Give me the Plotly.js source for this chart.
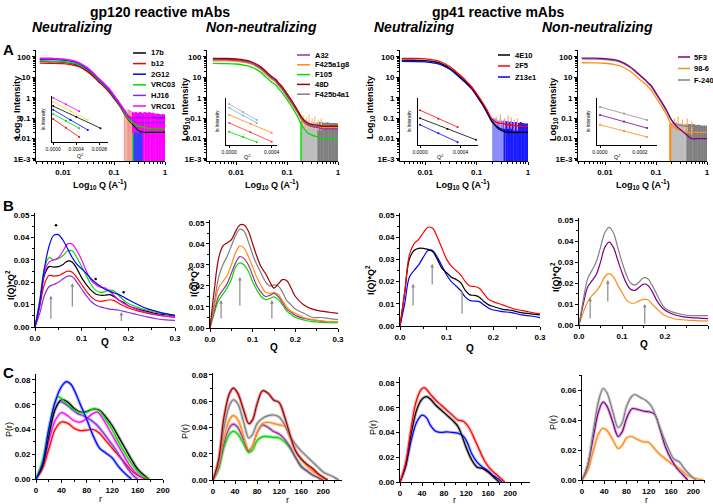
<!DOCTYPE html>
<html><head><meta charset="utf-8">
<script src="https://cdn.plot.ly/plotly-3.0.1.min.js"></script>
<style>html,body{margin:0;padding:0;background:#fff}#chart{width:713px;height:504px}</style>
</head><body><div id="chart"></div>
<script>
// ================= DATA =================
// ---- Row A : log-log scattering curves ----
const qA = [0.0035,0.006,0.01,0.015,0.02,0.03,0.04,0.05,0.06,0.07,0.08,0.1,0.13,0.16,0.2,0.25,0.3,0.4,0.5,0.7,1.0];
const a1Names = ['17b','b12','2G12','VRC03','HJ16','VRC01'];
const a1_17b  = [60,59,56,48,39,22,12,6.7,4.5,3.1,2.2,1.0,0.42,0.18,0.08,0.04,0.025,0.02,0.02,0.02,0.02];
const a1_b12  = [50,49,47,41,34,19,10.5,5.9,4,2.7,1.9,0.9,0.38,0.16,0.07,0.05,0.04,0.035,0.03,0.03,0.03];
const a1_2G12 = [75,74,70,60,48,26,14,7.8,5.2,3.5,2.5,1.15,0.48,0.22,0.11,0.1,0.1,0.1,0.1,0.1,0.1];
const a1_VRC03= [62,61,58,50,41,23,12.5,7,4.7,3.2,2.3,1.05,0.42,0.18,0.08,0.05,0.04,0.035,0.03,0.03,0.03];
const a1_HJ16 = [80,78,74,63,50,27,14.5,8,5.3,3.6,2.6,1.2,0.5,0.22,0.1,0.07,0.06,0.06,0.06,0.06,0.06];
const a1_VRC01= [88,86,80,68,55,30,16,9,6,4,2.9,1.35,0.55,0.25,0.12,0.1,0.1,0.1,0.1,0.09,0.09];

const a2Names = ['A32','F425a1g8','F105','48D','F425b4a1'];
const a2_A32  = [78,77,73,63,52,30,16,9.5,7,4.3,3,1.3,0.5,0.22,0.09,0.05,0.04,0.035,0.03,0.03,0.03];
const a2_a1g8 = [65,64,61,53,44,25,13,8,5.8,3.6,2.5,1.1,0.42,0.18,0.07,0.045,0.04,0.035,0.035,0.035,0.035];
const a2_F105 = [48,47,45,39,32,18.5,9.5,5.8,4.2,2.6,1.8,0.8,0.3,0.12,0.04,0.02,0.015,0.012,0.01,0.01,0.01];
const a2_48D  = [85,84,80,70,58,34,18,11,8,5,3.5,1.6,0.6,0.25,0.1,0.06,0.05,0.045,0.04,0.04,0.04];
const a2_b4a1 = [72,71,68,59,49,28,15,9,6.5,4,2.8,1.2,0.47,0.2,0.08,0.05,0.045,0.04,0.04,0.04,0.04];

const a3Names = ['4E10','2F5','Z13e1'];
const a3_4E10 = [70,69,66,58,48,28,16,9.5,6.3,4.2,3,1.4,0.5,0.2,0.07,0.035,0.025,0.02,0.02,0.02,0.02];
const a3_2F5  = [85,84,80,70,58,34,19,11.5,7.5,5,3.5,1.6,0.6,0.25,0.09,0.06,0.055,0.05,0.045,0.04,0.04];
const a3_Z13  = [60,59,57,50,42,25,14,8.5,5.7,3.8,2.7,1.25,0.46,0.18,0.065,0.04,0.03,0.025,0.02,0.02,0.02];

const a4Names = ['5F3','98-6','F-240'];
const a4_5F3  = [88,87,83,73,60,35,20,12,8,5.5,4,1.7,0.6,0.25,0.085,0.04,0.028,0.015,0.01,0.01,0.01];
const a4_986  = [52,51,49,43,36,21,12,7.2,5,3.4,2.4,1.0,0.37,0.15,0.05,0.03,0.025,0.02,0.02,0.02,0.02];
const a4_F240 = [80,79,75,66,55,32,18,11,7.5,5,3.6,1.5,0.55,0.22,0.08,0.05,0.045,0.04,0.04,0.035,0.035];

// high-Q noisy points with error bars (value, upper error, lower error)
const e1_b12_q=[0.16,0.17,0.18,0.19,0.2,0.21,0.22], e1_b12_v=[0.16,0.14,0.13,0.12,0.11,0.1,0.1], e1_b12_up=[0.08,0.14,0.1,0.16,0.12,0.1,0.12];
const e1_VRC03_q=[0.19,0.2,0.21,0.22,0.23], e1_VRC03_v=[0.1,0.1,0.095,0.09,0.09], e1_VRC03_up=[0.03,0.04,0.03,0.04,0.03];
const e1_2G12_q=[0.23,0.24,0.25,0.26,0.27,0.28,0.29,0.3,0.31,0.32,0.33,0.34,0.35,0.36,0.37];
const e1_2G12_v=[0.1,0.11,0.1,0.1,0.105,0.1,0.1,0.095,0.1,0.1,0.105,0.1,0.1,0.095,0.1];
const e1_2G12_up=[0.05,0.06,0.04,0.05,0.06,0.05,0.04,0.05,0.06,0.05,0.04,0.05,0.05,0.04,0.05];
const e1_VRC01_q=[0.2,0.21,0.22,0.23,0.24,0.25,0.27,0.29,0.31,0.33,0.35,0.38,0.41,0.44,0.47,0.5,0.54,0.58,0.62,0.67,0.72,0.77,0.83,0.89,0.95,1.0];
const e1_VRC01_v=[0.12,0.11,0.11,0.1,0.1,0.1,0.1,0.1,0.1,0.1,0.1,0.1,0.1,0.1,0.1,0.095,0.1,0.095,0.09,0.095,0.09,0.09,0.09,0.09,0.09,0.09];
const e1_VRC01_up=[0.12,0.1,0.09,0.1,0.08,0.09,0.1,0.08,0.09,0.1,0.08,0.09,0.1,0.08,0.09,0.1,0.08,0.09,0.08,0.07,0.08,0.07,0.06,0.07,0.06,0.06];
const e1_VRC01_dn=[0.1,0.09,0.09,0.08,0.08,0.08,0.08,0.08,0.08,0.08,0.08,0.1,0.1,0.1,0.1,0.095,0.1,0.095,0.09,0.095,0.09,0.09,0.09,0.09,0.09,0.09];

const e2_F105_q=[0.19,0.195,0.2,0.205], e2_F105_v=[0.04,0.035,0.03,0.03], e2_F105_up=[0.03,0.04,0.03,0.03];
const e2_b4a1L_q=[0.205,0.21,0.22,0.23,0.24,0.25,0.27,0.29,0.31,0.33,0.35,0.38];
const e2_b4a1L_v=[0.05,0.05,0.045,0.045,0.045,0.04,0.045,0.04,0.04,0.045,0.04,0.04];
const e2_b4a1L_up=[0.03,0.025,0.03,0.025,0.02,0.03,0.025,0.02,0.025,0.02,0.02,0.025];
const e2_b4a1D_q=[0.41,0.44,0.47,0.5,0.54,0.58,0.62,0.67,0.72,0.77,0.83,0.89,0.95,1.0];
const e2_b4a1D_v=[0.04,0.042,0.04,0.038,0.04,0.04,0.038,0.04,0.038,0.038,0.04,0.038,0.036,0.036];
const e2_b4a1D_up=[0.02,0.025,0.02,0.025,0.02,0.02,0.025,0.02,0.02,0.02,0.018,0.02,0.02,0.018];
const e2_a1g8_q=[0.21,0.24,0.27,0.31,0.35,0.41,0.47], e2_a1g8_v=[0.06,0.05,0.05,0.05,0.05,0.045,0.045];
const e2_a1g8_up=[0.08,0.06,0.1,0.05,0.07,0.04,0.05], e2_a1g8_dn=[0.02,0.02,0.02,0.02,0.02,0.02,0.02];

const e3_Z13L_q=[0.21,0.22,0.23,0.24,0.25,0.27,0.29,0.31,0.33];
const e3_Z13L_v=[0.06,0.055,0.05,0.05,0.05,0.045,0.045,0.045,0.045];
const e3_Z13L_up=[0.04,0.04,0.03,0.04,0.03,0.03,0.04,0.03,0.03];
const e3_Z13D_q=[0.35,0.38,0.41,0.44,0.47,0.5,0.54,0.58,0.62,0.67,0.72,0.77,0.83,0.89,0.95,1.0];
const e3_Z13D_v=[0.045,0.045,0.04,0.045,0.04,0.04,0.042,0.04,0.04,0.038,0.04,0.038,0.036,0.036,0.035,0.035];
const e3_Z13D_up=[0.03,0.025,0.03,0.02,0.03,0.025,0.02,0.025,0.02,0.02,0.025,0.02,0.02,0.018,0.02,0.018];
const e3_2F5_q=[0.24,0.29,0.35,0.41,0.47,0.54,0.62], e3_2F5_v=[0.06,0.055,0.05,0.05,0.05,0.045,0.045];
const e3_2F5_up=[0.06,0.1,0.05,0.08,0.06,0.04,0.05], e3_2F5_dn=[0.02,0.02,0.02,0.02,0.02,0.02,0.02];

const e4_986_q=[0.19,0.195,0.2,0.205], e4_986_v=[0.035,0.03,0.03,0.025], e4_986_up=[0.02,0.025,0.02,0.02];
const e4_F240L_q=[0.21,0.22,0.23,0.24,0.25,0.27,0.29,0.31,0.33,0.35,0.38];
const e4_F240L_v=[0.04,0.04,0.038,0.038,0.036,0.036,0.035,0.035,0.034,0.034,0.033];
const e4_F240L_up=[0.02,0.025,0.02,0.02,0.025,0.02,0.02,0.018,0.02,0.018,0.02];
const e4_F240D_q=[0.41,0.44,0.47,0.5,0.54,0.58,0.62,0.67,0.72,0.77,0.83,0.89,0.95,1.0];
const e4_F240D_v=[0.033,0.033,0.032,0.032,0.032,0.03,0.03,0.03,0.03,0.028,0.028,0.028,0.028,0.028];
const e4_F240D_up=[0.02,0.018,0.02,0.018,0.02,0.018,0.016,0.018,0.016,0.016,0.015,0.016,0.015,0.015];
const e4_986s_q=[0.23,0.27,0.33,0.41,0.5], e4_986s_v=[0.04,0.04,0.035,0.035,0.03];
const e4_986s_up=[0.06,0.08,0.05,0.06,0.04], e4_986s_dn=[0.015,0.015,0.015,0.015,0.015];

// Guinier insets (ln I vs Q^2, arbitrary units)
const in1_x = [[0,0.00022,0.00045],[0,0.0003,0.0006],[0,0.0004,0.00082],[0,0.0003,0.0006],[0,0.00022,0.00045],[0,0.00022,0.00045]];
const in1_y = [[9.6,8.2,6.7],[8.7,6.7,4.8],[7.8,5.5,3.0],[7.0,4.8,2.6],[6.1,4.6,3.0],[5.0,3.1,1.1]];
const in2_x = [[0,0.00013,0.00026],[0,0.00013,0.00026],[0,0.0002,0.0004],[0,0.0002,0.0004],[0,0.00013,0.00026]];
const in2_y = [[8.7,7.0,5.3],[7.9,6.3,4.7],[6.4,4.5,2.6],[4.7,2.7,0.7],[2.8,1.7,0.6]];
const in3_x = [[0,0.00018,0.00037],[0,0.00027,0.00055],[0,0.00018,0.00037]];
const in3_y = [[7.4,5.6,3.8],[5.7,3.4,1.1],[4.3,2.5,0.6]];
const in4_x = [[0,0.00012,0.000235],[0,0.00012,0.000235],[0,0.00012,0.000235]];
const in4_y = [[8.1,6.7,5.3],[6.4,5.0,3.6],[4.3,3.0,1.7]];

// ---- Row B : Kratky plots ----
const qB = [0,0.01,0.02,0.03,0.04,0.05,0.06,0.07,0.08,0.09,0.10,0.11,0.12,0.13,0.14,0.15,0.16,0.17,0.18,0.19,0.20,0.22,0.24,0.26,0.28,0.30];
const b1_2G12 = [0,0.011,0.026,0.036,0.041,0.0413,0.0388,0.035,0.031,0.028,0.026,0.024,0.0216,0.0198,0.0183,0.0168,0.016,0.0152,0.0145,0.0134,0.0122,0.0101,0.0082,0.007,0.006,0.0052];
const b1_VRC01= [0,0.010,0.024,0.029,0.030,0.031,0.034,0.0372,0.037,0.034,0.030,0.025,0.021,0.019,0.0178,0.0175,0.016,0.014,0.012,0.0105,0.0095,0.0078,0.0065,0.0055,0.0048,0.0042];
const b1_VRC03= [0,0.012,0.026,0.031,0.030,0.0305,0.032,0.034,0.034,0.031,0.027,0.023,0.019,0.0165,0.0155,0.0158,0.0165,0.016,0.014,0.012,0.0105,0.0088,0.0075,0.0065,0.0058,0.0052];
const b1_17b  = [0,0.010,0.023,0.027,0.0268,0.027,0.028,0.0295,0.029,0.026,0.022,0.019,0.0165,0.0148,0.0142,0.0142,0.0145,0.0135,0.012,0.011,0.0095,0.008,0.007,0.006,0.0055,0.005];
const b1_b12  = [0,0.009,0.019,0.023,0.0228,0.023,0.024,0.025,0.0245,0.022,0.019,0.016,0.0135,0.012,0.0115,0.0118,0.0122,0.0118,0.0105,0.0095,0.0085,0.0072,0.0062,0.0054,0.0048,0.0044];
const b1_HJ16 = [0,0.006,0.014,0.018,0.019,0.020,0.0215,0.0228,0.0225,0.020,0.017,0.014,0.0115,0.0098,0.009,0.0085,0.008,0.0078,0.0075,0.007,0.0065,0.0055,0.0045,0.0037,0.0032,0.003];

const b2_48D  = [0,0.018,0.033,0.039,0.0405,0.042,0.046,0.049,0.049,0.046,0.040,0.034,0.029,0.026,0.022,0.019,0.021,0.023,0.0225,0.019,0.015,0.011,0.009,0.008,0.0075,0.007];
const b2_b4a1 = [0,0.012,0.024,0.030,0.034,0.039,0.044,0.047,0.046,0.041,0.035,0.030,0.026,0.022,0.020,0.0205,0.020,0.017,0.013,0.011,0.009,0.007,0.005,0.005,0.0045,0.004];
const b2_a1g8 = [0,0.010,0.019,0.022,0.025,0.030,0.036,0.039,0.038,0.034,0.029,0.024,0.020,0.017,0.0165,0.017,0.016,0.013,0.010,0.008,0.007,0.005,0.004,0.0035,0.003,0.003];
const b2_A32  = [0,0.008,0.015,0.018,0.021,0.026,0.031,0.034,0.033,0.030,0.025,0.020,0.017,0.015,0.0155,0.0165,0.015,0.012,0.009,0.0075,0.006,0.0045,0.0038,0.0033,0.003,0.003];
const b2_F105 = [0,0.007,0.013,0.016,0.019,0.023,0.029,0.031,0.030,0.027,0.022,0.018,0.015,0.0135,0.014,0.0148,0.0135,0.011,0.008,0.0065,0.005,0.0038,0.003,0.0027,0.0025,0.0025];

const b3_2F5  = [0,0.015,0.032,0.037,0.039,0.042,0.0445,0.044,0.040,0.035,0.030,0.027,0.025,0.023,0.020,0.018,0.0178,0.017,0.0145,0.012,0.011,0.0095,0.008,0.007,0.0062,0.0055];
const b3_4E10 = [0,0.015,0.030,0.034,0.035,0.035,0.0345,0.0335,0.030,0.026,0.024,0.022,0.021,0.0195,0.016,0.014,0.0138,0.013,0.011,0.0095,0.0088,0.0075,0.007,0.006,0.0055,0.005];
const b3_Z13  = [0,0.010,0.022,0.025,0.0275,0.031,0.034,0.034,0.031,0.027,0.023,0.020,0.018,0.016,0.013,0.0115,0.0112,0.011,0.0095,0.008,0.0072,0.0065,0.006,0.005,0.0045,0.0038];

const b4_F240 = [0,0.012,0.022,0.026,0.030,0.037,0.044,0.0465,0.044,0.037,0.030,0.024,0.020,0.019,0.0205,0.0225,0.022,0.019,0.015,0.011,0.008,0.006,0.005,0.0045,0.0045,0.0045];
const b4_5F3  = [0,0.010,0.018,0.021,0.024,0.030,0.037,0.0395,0.037,0.031,0.025,0.020,0.017,0.0165,0.018,0.0195,0.019,0.016,0.012,0.009,0.007,0.005,0.004,0.0035,0.0033,0.003];
const b4_986  = [0,0.006,0.011,0.014,0.016,0.019,0.023,0.0245,0.023,0.019,0.0155,0.012,0.0105,0.0105,0.0115,0.0122,0.012,0.010,0.008,0.006,0.0045,0.003,0.0025,0.0022,0.002,0.002];

// arrows (Q, tail value, head value) and peak dots
const b1_arrows = [[0.034,0.003,0.014],[0.08,0.0085,0.0196],[0.185,0.002,0.0067]];
const b1_dotQ = [0.045,0.13,0.19], b1_dotV = [0.0455,0.0215,0.0155];
const b2_arrows = [[0.026,0.0038,0.0133],[0.07,0.010,0.0243],[0.145,0.0038,0.0133]];
const b3_arrows = [[0.028,0.0086,0.019],[0.069,0.018,0.028],[0.133,0.005,0.016]];
const b4_arrows = [[0.026,0.0024,0.013],[0.067,0.0105,0.0214],[0.153,0.0,0.010]];

// ---- Row C : P(r) distributions ----
const c1_r_17b=[0,10,20,30,40,50,60,70,80,90,100,110,120,130,140,150,160,170,178];
const c1_17b =[0,0.010,0.034,0.056,0.064,0.062,0.057,0.054,0.0545,0.0565,0.0555,0.050,0.043,0.034,0.025,0.016,0.008,0.003,0];
const c1_r_b12=[0,10,20,30,40,50,60,70,80,90,100,110,120,130,140,150,160,170,175];
const c1_b12 =[0,0.008,0.024,0.040,0.046,0.045,0.041,0.039,0.0395,0.040,0.037,0.031,0.025,0.019,0.013,0.007,0.003,0.0005,0];
const c1_r_2G12=[0,10,20,30,40,48,55,60,70,80,90,100,110,120,130,140,150];
const c1_2G12 =[0,0.012,0.040,0.062,0.0745,0.0787,0.0765,0.072,0.060,0.048,0.035,0.025,0.021,0.017,0.010,0.0045,0];
const c1_r_VRC03=[0,10,20,30,35,40,50,60,70,80,90,100,110,120,130,140,150,160,170,178];
const c1_VRC03 =[0,0.014,0.040,0.062,0.0665,0.065,0.060,0.056,0.0535,0.054,0.0565,0.055,0.048,0.040,0.030,0.021,0.013,0.006,0.002,0];
const c1_r_HJ16=[0,10,20,30,38,45,55,65,75,85,95,105,115,125,135,145,155,160];
const c1_HJ16 =[0,0.012,0.038,0.057,0.0625,0.061,0.057,0.053,0.051,0.048,0.044,0.038,0.031,0.024,0.016,0.008,0.002,0];
const c1_r_VRC01=[0,10,20,30,40,50,60,70,80,90,97,105,115,125,135,145,155,165,170];
const c1_VRC01 =[0,0.010,0.030,0.047,0.0535,0.051,0.047,0.046,0.049,0.053,0.054,0.049,0.040,0.031,0.022,0.013,0.006,0.002,0];

const c2_r_48D=[0,10,20,30,37,45,55,65,72,80,90,100,110,120,130,140,150,160,170,180,190,200,208];
const c2_48D =[0,0.015,0.048,0.066,0.070,0.066,0.054,0.043,0.046,0.058,0.068,0.066,0.061,0.059,0.048,0.034,0.022,0.016,0.012,0.009,0.005,0.002,0];
const c2_r_b4a1=[0,10,20,30,37,45,55,65,72,80,90,100,110,120,130,140,150,160,170,180,190,200,210,220,228];
const c2_b4a1 =[0,0.012,0.040,0.057,0.061,0.058,0.045,0.032,0.035,0.043,0.047,0.049,0.0495,0.048,0.042,0.033,0.027,0.022,0.018,0.014,0.010,0.006,0.004,0.002,0];
const c2_r_a1g8=[0,10,20,30,37,45,55,65,72,80,90,100,110,120,130,140,150,160,170,180,190,200,205];
const c2_a1g8 =[0,0.010,0.032,0.046,0.049,0.046,0.034,0.023,0.026,0.036,0.043,0.044,0.043,0.042,0.041,0.032,0.022,0.016,0.011,0.007,0.004,0.001,0];
const c2_r_A32=[0,10,20,30,37,45,55,65,72,80,90,100,110,120,130,140,150,160,170,180,190,200];
const c2_A32 =[0,0.009,0.028,0.040,0.0425,0.040,0.031,0.022,0.026,0.036,0.042,0.040,0.037,0.035,0.031,0.025,0.017,0.010,0.007,0.004,0.002,0];
const c2_r_F105=[0,10,20,30,37,45,55,65,72,80,90,100,110,120,130,140,150,160,170,180,190,195];
const c2_F105 =[0,0.008,0.025,0.035,0.037,0.035,0.028,0.021,0.023,0.030,0.033,0.033,0.0325,0.032,0.029,0.024,0.017,0.011,0.007,0.004,0.002,0];

const c3_r_2F5=[0,10,20,30,40,45,55,65,75,85,95,105,115,125,135,145,155,165,175,185,190];
const c3_2F5 =[0,0.015,0.043,0.066,0.0755,0.076,0.071,0.066,0.062,0.058,0.054,0.050,0.049,0.044,0.035,0.025,0.016,0.010,0.006,0.002,0];
const c3_r_4E10=[0,10,20,30,40,48,55,65,75,85,95,105,112,120,130,140,150,160,170,180];
const c3_4E10 =[0,0.013,0.038,0.058,0.067,0.069,0.067,0.062,0.058,0.054,0.050,0.045,0.038,0.028,0.018,0.012,0.011,0.008,0.004,0];
const c3_r_Z13=[0,10,20,30,40,48,55,65,75,85,95,105,115,122,130,140,150,160,170,180,185];
const c3_Z13 =[0,0.012,0.033,0.048,0.054,0.052,0.046,0.041,0.040,0.0405,0.040,0.0395,0.037,0.032,0.023,0.016,0.012,0.009,0.005,0.002,0];

const c4_r_F240=[0,10,20,30,38,45,55,65,72,80,90,95,105,115,125,135,145,155,165,175,185,195,205];
const c4_F240 =[0,0.010,0.032,0.053,0.061,0.058,0.046,0.035,0.038,0.049,0.056,0.057,0.055,0.053,0.049,0.040,0.030,0.021,0.014,0.012,0.007,0.003,0];
const c4_r_5F3=[0,10,20,30,38,45,55,65,72,80,90,100,110,120,130,140,150,160,170,180,190];
const c4_5F3 =[0,0.009,0.028,0.046,0.052,0.049,0.039,0.029,0.032,0.041,0.0475,0.047,0.046,0.0455,0.044,0.034,0.022,0.014,0.008,0.004,0];
const c4_r_986=[0,10,20,30,38,45,55,65,72,80,88,100,110,120,130,140,150,160,170,180,190,200,210,218];
const c4_986 =[0,0.006,0.019,0.031,0.0345,0.033,0.027,0.021,0.023,0.028,0.029,0.027,0.0255,0.025,0.021,0.017,0.014,0.011,0.009,0.006,0.003,0.0015,0.0005,0];

// tick labels
const logYVals=[0.001,0.01,0.1,1,10,100], logYText=['1E-3','0.01','0.1','1','10','100'];
const logXVals=[0.01,0.1,1], logXText=['0.01','0.1','1'];

// ================= STYLE / LAYOUT HELPERS =================
const W=713,H=504;
const FONT='Liberation Sans, Arial, sans-serif';
const C={black:'#000000',red:'#ff0000',blue:'#0000ff',green:'#00dd00',purple:'#8a2be2',magenta:'#ff00ff',
  orange:'#ff8c1a',dred:'#a00000',grey:'#808080',plum:'#993399',dpurple:'#800080',yellow:'#e6e600',cyan:'#55c8e0',lavender:'#b39cc8'};
const TF={family:FONT,size:8,color:'#000',weight:'bold'};
function xAx(x0,x1,anchor,range,extra){return Object.assign({domain:[x0/W,x1/W],anchor:anchor,range:range,showline:true,linecolor:'#000',linewidth:1,
  ticks:'outside',ticklen:3,tickwidth:1,tickcolor:'#000',showgrid:false,zeroline:false,tickfont:TF,automargin:false,fixedrange:true},extra||{});}
function yAx(yt,yb,anchor,range,extra){return Object.assign({domain:[1-yb/H,1-yt/H],anchor:anchor,range:range,showline:true,linecolor:'#000',linewidth:1,
  ticks:'outside',ticklen:3,tickwidth:1,tickcolor:'#000',showgrid:false,zeroline:false,tickfont:TF,automargin:false,fixedrange:true},extra||{});}
const logX={type:'log',tickmode:'array',tickvals:logXVals,ticktext:logXText,minor:{ticks:'outside',ticklen:2,dtick:'D1',tickcolor:'#000'}};
const logY={type:'log',tickmode:'array',tickvals:logYVals,ticktext:logYText,minor:{ticks:'outside',ticklen:2,dtick:'D1',tickcolor:'#000'}};
const bX={dtick:0.1,tickformat:'.1f',minor:{dtick:0.05,ticks:'outside',ticklen:2,tickcolor:'#000'}};
const bY={dtick:0.01,tickformat:'.2f',minor:{dtick:0.005,ticks:'outside',ticklen:2,tickcolor:'#000'}};
const cX={dtick:40,minor:{dtick:20,ticks:'outside',ticklen:2,tickcolor:'#000'}};
const cY={dtick:0.02,tickformat:'.2f',minor:{dtick:0.01,ticks:'outside',ticklen:2,tickcolor:'#000'}};
const inTF={family:FONT,size:5,color:'#000'};
function inX(x0,x1,anchor,range,vals,texts){return xAx(x0,x1,anchor,range,{tickmode:'array',tickvals:vals,ticktext:texts,tickfont:inTF,ticklen:2});}
function inY(yt,yb,anchor){return yAx(yt,yb,anchor,[0,10],{showticklabels:false,ticks:''});}

const layout={width:W,height:H,margin:{l:0,r:0,t:0,b:0},showlegend:false,paper_bgcolor:'#fff',plot_bgcolor:'rgba(0,0,0,0)',
 xaxis:xAx(36,165,'y',[-2.53,0],logX), yaxis:yAx(50,161,'x',[-3.1,2.34],logY),
 xaxis2:xAx(207,338,'y2',[-2.57,0],logX), yaxis2:yAx(50,161,'x2',[-3.1,2.34],logY),
 xaxis3:xAx(400,528,'y3',[-2.49,0],logX), yaxis3:yAx(50,161,'x3',[-3.1,2.34],logY),
 xaxis4:xAx(578,707,'y4',[-2.53,0],logX), yaxis4:yAx(50,161,'x4',[-3.1,2.34],logY),
 xaxis5:xAx(35,175,'y5',[0,0.3],bX), yaxis5:yAx(213,327,'x5',[0,0.051],bY),
 xaxis6:xAx(210,338,'y6',[0,0.3],bX), yaxis6:yAx(220,328,'x6',[0,0.0514],bY),
 xaxis7:xAx(400,540,'y7',[0,0.3],bX), yaxis7:yAx(213,326,'x7',[0,0.0509],bY),
 xaxis8:xAx(579,708,'y8',[0,0.3],bX), yaxis8:yAx(218,325,'x8',[0,0.051],bY),
 xaxis9:xAx(36,163,'y9',[0,200],cX), yaxis9:yAx(374,479,'x9',[0,0.0848],cY),
 xaxis10:xAx(213,342,'y10',[0,234],cX), yaxis10:yAx(373,480,'x10',[0,0.0815],cY),
 xaxis11:xAx(400,530,'y11',[0,236],cX), yaxis11:yAx(377,482,'x11',[0,0.0848],cY),
 xaxis12:xAx(582,705,'y12',[0,221],cX), yaxis12:yAx(375,480,'x12',[0,0.07],cY),
 xaxis13:inX(52,108,'y13',[-0.00002,0.00095],[0,0.0004,0.0008],['0.0000','0.0004','0.0008']), yaxis13:inY(96,142,'x13'),
 xaxis14:inX(226,277,'y14',[-0.00003,0.00045],[0,0.0004],['0.0000','0.0004']), yaxis14:inY(98,145,'x14'),
 xaxis15:inX(418,478,'y15',[-0.00002,0.00057],[0,0.0004],['0.0000','0.0004']), yaxis15:inY(98,145,'x15'),
 xaxis16:inX(597,657,'y16',[-0.000015,0.000285],[0,0.0002],['0.0000','0.0002']), yaxis16:inY(98,145,'x16'),
 annotations:[], shapes:[]
};

// ================= TRACES =================
const traces=[];
function ln(x,y,color,n,w){traces.push({type:'scatter',mode:'lines',x:x,y:y,xaxis:'x'+(n===1?'':n),yaxis:'y'+(n===1?'':n),
  line:{color:color,width:w||1.2,shape:'spline',smoothing:1},hoverinfo:'skip'});}
function er(q,v,up,dn,color,n,th){traces.push({type:'scatter',mode:'markers',x:q,y:v,xaxis:'x'+(n===1?'':n),yaxis:'y'+(n===1?'':n),
  marker:{size:1,color:color},error_y:{type:'data',symmetric:false,array:up,arrayminus:dn,color:color,thickness:th||2,width:0},hoverinfo:'skip'});}
function inset(xs,ys,colors,n){xs.forEach((x,i)=>traces.push({type:'scatter',mode:'lines+markers',x:x,y:ys[i],xaxis:'x'+n,yaxis:'y'+n,
  line:{color:colors[i],width:0.8},marker:{size:2,color:colors[i]},hoverinfo:'skip'}));}

// A1
er(e1_2G12_q,e1_2G12_v,e1_2G12_up,e1_2G12_v,'#3a3aff',1);
er(e1_VRC03_q,e1_VRC03_v,e1_VRC03_up,e1_VRC03_v,'#22e022',1);
er(e1_VRC01_q,e1_VRC01_v,e1_VRC01_up,e1_VRC01_dn,'#ff00ff',1);
er(e1_b12_q,e1_b12_v,e1_b12_up,e1_b12_v,'#ff9a9a',1,1.2);
const a1Series=[a1_b12,a1_17b,a1_VRC03,a1_2G12,a1_HJ16,a1_VRC01];
const a1Cols=[C.red,C.black,C.green,C.blue,C.purple,C.magenta];
a1Series.forEach((s,i)=>ln(qA,s,a1Cols[i],1,1.3));
// A2
er(e2_F105_q,e2_F105_v,e2_F105_up,e2_F105_v,'#22e022',2);
er(e2_b4a1L_q,e2_b4a1L_v,e2_b4a1L_up,e2_b4a1L_v,'#bdbdbd',2);
er(e2_b4a1D_q,e2_b4a1D_v,e2_b4a1D_up,e2_b4a1D_v,'#808080',2);
er(e2_a1g8_q,e2_a1g8_v,e2_a1g8_up,e2_a1g8_dn,'#ffc080',2,1.2);
[a2_F105,a2_a1g8,a2_b4a1,a2_A32,a2_48D].forEach((s,i)=>ln(qA,s,[C.green,C.orange,C.grey,C.plum,C.dred][i],2,1.3));
// A3
er(e3_Z13L_q,e3_Z13L_v,e3_Z13L_up,e3_Z13L_v,'#8c8cff',3);
er(e3_Z13D_q,e3_Z13D_v,e3_Z13D_up,e3_Z13D_v,'#1a1aff',3);
er(e3_2F5_q,e3_2F5_v,e3_2F5_up,e3_2F5_dn,'#ff9a9a',3,1.2);
[a3_Z13,a3_4E10,a3_2F5].forEach((s,i)=>ln(qA,s,[C.blue,C.black,C.red][i],3,1.3));
// A4
er(e4_986_q,e4_986_v,e4_986_up,e4_986_v,C.orange,4);
er(e4_F240L_q,e4_F240L_v,e4_F240L_up,e4_F240L_v,'#bdbdbd',4);
er(e4_F240D_q,e4_F240D_v,e4_F240D_up,e4_F240D_v,'#808080',4);
er(e4_986s_q,e4_986s_v,e4_986s_up,e4_986s_dn,'#ffb060',4,1.2);
[a4_986,a4_F240,a4_5F3].forEach((s,i)=>ln(qA,s,[C.orange,C.grey,C.dpurple][i],4,1.3));
// insets
inset(in1_x,in1_y,[C.magenta,C.yellow,C.black,C.blue,C.green,C.red],13);
inset(in2_x,in2_y,[C.lavender,C.cyan,C.orange,'#ff3030',C.green],14);
inset(in3_x,in3_y,[C.red,C.black,C.blue],15);
inset(in4_x,in4_y,['#909090',C.dpurple,C.orange],16);

// B rows
[b1_HJ16,b1_b12,b1_17b,b1_VRC03,b1_VRC01,b1_2G12].forEach((s,i)=>ln(qB,s,[C.purple,C.red,C.black,C.green,C.magenta,C.blue][i],5,1.2));
[b2_F105,b2_A32,b2_a1g8,b2_b4a1,b2_48D].forEach((s,i)=>ln(qB,s,[C.green,C.plum,C.orange,C.grey,C.dred][i],6,1.2));
[b3_Z13,b3_4E10,b3_2F5].forEach((s,i)=>ln(qB,s,[C.blue,C.black,C.red][i],7,1.2));
[b4_986,b4_5F3,b4_F240].forEach((s,i)=>ln(qB,s,[C.orange,C.dpurple,C.grey][i],8,1.2));
traces.push({type:'scatter',mode:'markers',x:b1_dotQ,y:b1_dotV,xaxis:'x5',yaxis:'y5',marker:{size:2.5,color:'#000'},hoverinfo:'skip'});

// C rows with light halo standing for the error bars
const c1=[[c1_r_b12,c1_b12,C.red,'#ffb0b0'],[c1_r_VRC01,c1_VRC01,C.magenta,'#ffb8ff'],[c1_r_HJ16,c1_HJ16,C.purple,'#d2b0f0'],
  [c1_r_17b,c1_17b,C.black,'#a8a8a8'],[c1_r_VRC03,c1_VRC03,C.green,'#90f090'],[c1_r_2G12,c1_2G12,C.blue,'#a8b0ff']];
const c2=[[c2_r_F105,c2_F105,C.green,'#90f090'],[c2_r_A32,c2_A32,C.plum,'#d8b0d8'],[c2_r_a1g8,c2_a1g8,C.orange,'#ffd0a0'],
  [c2_r_b4a1,c2_b4a1,C.grey,'#d0d0d0'],[c2_r_48D,c2_48D,C.dred,'#e0a0a0']];
const c3=[[c3_r_Z13,c3_Z13,C.blue,'#b8c0ff'],[c3_r_4E10,c3_4E10,C.black,'#b0b0b0'],[c3_r_2F5,c3_2F5,C.red,'#ffb0b0']];
const c4=[[c4_r_986,c4_986,C.orange,'#ffd8b0'],[c4_r_5F3,c4_5F3,C.dpurple,'#d8b0d8'],[c4_r_F240,c4_F240,C.grey,'#d8d8d8']];
[[c1,9],[c2,10],[c3,11],[c4,12]].forEach(([set,n])=>{
  set.forEach(s=>ln(s[0],s[1],s[3],n,3.2));
  set.forEach(s=>ln(s[0],s[1],s[2],n,1.2));
});

// ================= ANNOTATIONS / SHAPES =================
function ann(text,px,py,font,extra){layout.annotations.push(Object.assign({text:text,x:px/W,y:1-py/H,xref:'paper',yref:'paper',
  showarrow:false,xanchor:'center',yanchor:'middle',font:Object.assign({family:FONT,size:9,color:'#000',weight:'bold'},font||{})},extra||{}));}
// headers
ann('gp120 reactive mAbs',160,12,{size:14});
ann('gp41 reactive mAbs',498,12,{size:14});
[['Neutralizing',72],['Non-neutralizing',261],['Neutralizing',415],['Non-neutralizing',597]].forEach(t=>ann(t[0],t[1],27,{size:14,style:'italic'}));
ann('A',8,50,{size:15}); ann('B',8,205,{size:15}); ann('C',8,372,{size:15});
// A axis titles
const xtA='Log<sub>10</sub> Q (A<sup>-1</sup>)', ytA='Log<sub>10</sub> Intensity';
[[100,184],[272,184],[463,184],[643,184]].forEach(p=>ann(xtA,p[0],p[1],{size:9}));
[[17,108],[185,110],[370,108],[553,110]].forEach(p=>ann(ytA,p[0],p[1],{size:9},{textangle:-90}));
// insets texts
[[43,119],[217,121],[409,121],[588,121]].forEach(p=>ann('ln Intensity',p[0],p[1],{size:4.5,weight:'normal'},{textangle:-90}));
[[80,156],[247,157],[440,157],[617,157]].forEach(p=>ann('Q<sup>2</sup>',p[0],p[1],{size:5.5,weight:'normal'}));
// B titles
[[105,342],[274,347],[470,348],[644,344]].forEach(p=>ann('Q',p[0],p[1],{size:10}));
[[10,285],[193,282],[370,280],[555,277]].forEach(p=>ann('I(Q)*Q<sup>2</sup>',p[0],p[1],{size:9},{textangle:-90}));
// C titles
[[100,499],[287,500],[455,500],[646,500]].forEach(p=>ann('r',p[0],p[1],{size:9,weight:'normal'}));
[[9,430],[185,432],[373,428],[553,423]].forEach(p=>ann('P(r)',p[0],p[1],{size:9,weight:'normal'},{textangle:-90}));
// arrows in B
function arrows(list,n){list.forEach(a=>layout.annotations.push({x:a[0],y:a[2],ax:a[0],ay:a[1],xref:'x'+n,yref:'y'+n,axref:'x'+n,ayref:'y'+n,
  text:'',showarrow:true,arrowhead:2,arrowsize:0.6,arrowwidth:1.2,arrowcolor:'#8a8a8a'}));}
arrows(b1_arrows,5); arrows(b2_arrows,6); arrows(b3_arrows,7); arrows(b4_arrows,8);
// legends
function legend(names,colors,lx0,lx1,tx,y0,dy){names.forEach((nm,i)=>{const py=y0+i*dy;
  layout.shapes.push({type:'line',xref:'paper',yref:'paper',x0:lx0/W,x1:lx1/W,y0:1-py/H,y1:1-py/H,line:{color:colors[i],width:1.5}});
  ann(nm,tx,py,{size:7.5},{xanchor:'left'});});}
legend(a1Names,[C.black,C.red,C.blue,C.green,C.purple,C.magenta],133,146,149,53,10.6);
legend(a2Names,[C.plum,C.orange,C.green,C.dred,C.grey],297,310,313,55,9.8);
legend(a3Names,[C.black,C.red,C.blue],498,510,513,55,11);
legend(a4Names,[C.dpurple,C.orange,C.grey],678,690,692,57,11.5);

Plotly.newPlot('chart',traces,layout,{staticPlot:true,displayModeBar:false});
</script></body></html>
